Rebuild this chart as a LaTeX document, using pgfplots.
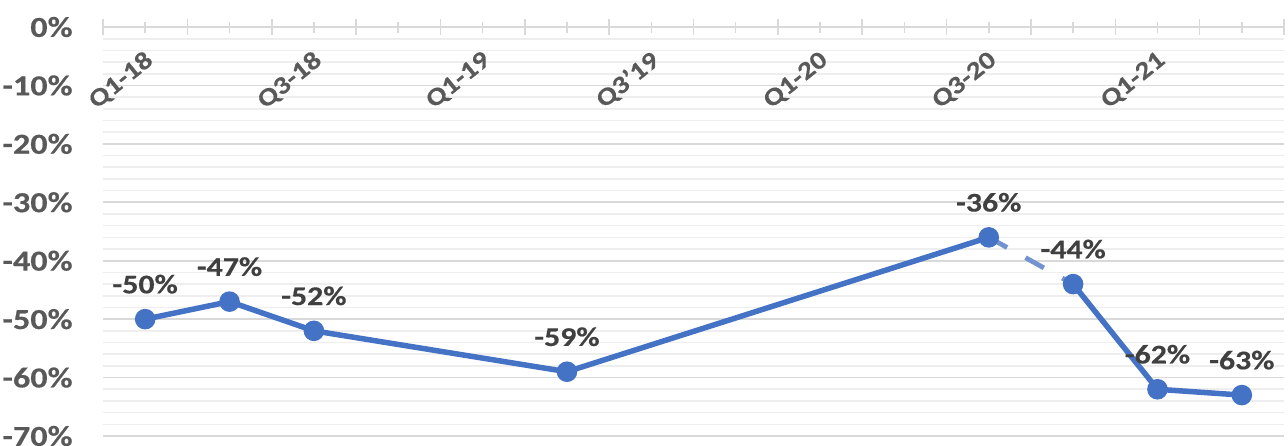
\documentclass[border=0pt]{standalone}
\usepackage{fontspec}
\setmainfont{Carlito}[FakeStretch=1.18, BoldFeatures={FakeBold=0.4}]
\usepackage{pgfplots}
\pgfplotsset{compat=1.18}
\definecolor{lineblue}{RGB}{68,114,196}
\definecolor{dashblue}{RGB}{114,147,208}
\definecolor{axgray}{RGB}{89,89,89}
\definecolor{lblgray}{RGB}{64,64,64}
\definecolor{majgrid}{RGB}{217,217,217}
\definecolor{mingrid}{RGB}{238,238,238}
\begin{document}
\begin{tikzpicture}
\begin{axis}[
  at={(0,0)}, anchor=south west,
  scale only axis, width=590.5pt, height=204.5pt,
  xmin=-0.5, xmax=13.5, ymin=-70, ymax=0,
  clip=false,
  axis line style={draw=none},
  /pgf/number format/assume math mode=true,
  ytick={-70,-60,...,0},
  yticklabels={-70\%,-60\%,-50\%,-40\%,-30\%,-20\%,-10\%,0\%},
  minor ytick={-68,-66,-64,-62,-58,-56,-54,-52,-48,-46,-44,-42,-38,-36,-34,-32,-28,-26,-24,-22,-18,-16,-14,-12,-8,-6,-4,-2},
  ymajorgrids, yminorgrids,
  major grid style={majgrid, line width=0.8pt},
  minor grid style={mingrid, line width=0.8pt},
  ytick style={draw=none},
  yticklabel style={font=\bfseries\fontsize{14.5}{17}\selectfont, text=axgray, anchor=east, inner sep=0pt, xshift=-11pt},
  xtick={-0.5,0.5,...,13.5},
  xticklabels={},
  minor xtick={0,1,...,13},
  xtick pos=upper, xticklabel pos=upper,
  tick align=center,
  xtick style={majgrid, line width=0.8pt},
  major tick length=8pt, minor tick length=5.5pt,
  extra x ticks={0,2,...,12},
  extra x tick labels={Q1-18,Q3-18,Q1-19,Q3'19,Q1-20,Q3-20,Q1-21},
  extra x tick style={major tick length=0pt,
    xticklabel style={font=\bfseries\fontsize{12.5}{14}\selectfont, text=axgray, xshift=2.5pt, yshift=-15pt, rotate=39, anchor=east, inner sep=0pt}},
  every node near coord/.append style={font=\bfseries\fontsize{13.5}{16}\selectfont, text=lblgray, anchor=center, yshift=17.5pt},
]
\addplot[dashblue, line width=2.4pt, dash pattern=on 10.5pt off 10.5pt, forget plot] coordinates {(10,-36) (11,-44)};
\addplot[lineblue, line width=2.75pt, mark=*, mark size=3.75pt, mark options={solid, fill=lineblue},
  point meta=y, nodes near coords={\pgfmathprintnumber{\pgfplotspointmeta}\%}]
  coordinates {(0,-50) (1,-47) (2,-52) (5,-59) (10,-36)};
\addplot[lineblue, line width=2.75pt, mark=*, mark size=3.75pt, mark options={solid, fill=lineblue},
  point meta=y, nodes near coords={\pgfmathprintnumber{\pgfplotspointmeta}\%}]
  coordinates {(11,-44) (12,-62) (13,-63)};
\end{axis}
\pgfresetboundingbox
\path[use as bounding box] (-51.5pt,-4.5pt) rectangle (592.5pt,218pt);
\end{tikzpicture}
\end{document}
